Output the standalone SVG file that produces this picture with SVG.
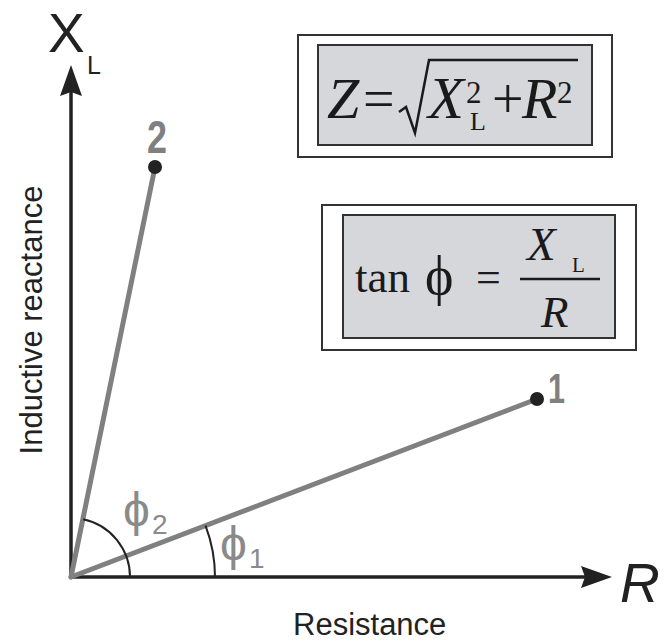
<svg xmlns="http://www.w3.org/2000/svg" width="667" height="644" viewBox="0 0 667 644">
<style>
.axis{stroke:#222;stroke-width:3.5;fill:none}
.vec{stroke:#808080;stroke-width:5;fill:none;stroke-linecap:round}
.arc{stroke:#222;stroke-width:2;fill:none}
.dot{fill:#222}
.sans{font-family:"Liberation Sans",Arial,sans-serif;fill:#222}
.num{font-family:"Liberation Sans",Arial,sans-serif;font-weight:bold;fill:#808080}
.phi{font-family:"Liberation Sans","DejaVu Sans",sans-serif;fill:#8a8a8a}
.ser{font-family:"Liberation Serif","Times New Roman",serif;fill:#1a1a1a}
.it{font-style:italic}
.outer{fill:#fff;stroke:#333;stroke-width:2}
.inner{fill:#d5d7da;stroke:#333;stroke-width:2}
.ah{fill:#222}
</style>
<rect width="667" height="644" fill="#fff"/>
<g id="axes">
  <line class="axis" x1="71" y1="577" x2="71" y2="90"/>
  <polygon class="ah" points="71,65 82,96 71,92 60,96"/>
  <line class="axis" x1="71" y1="577" x2="592" y2="577"/>
  <polygon class="ah" points="612,577 581,588 585,577 581,566"/>
  <text class="sans" x="48" y="52" font-size="55">X</text>
  <text class="sans" x="87" y="74" font-size="25">L</text>
  <text class="sans it" x="620" y="602" font-size="55">R</text>
  <text class="sans" x="293" y="635" font-size="31">Resistance</text>
  <text class="sans" font-size="31" text-anchor="middle" transform="translate(42,320) rotate(-90)">Inductive reactance</text>
</g>
<g id="connectors">
  <line class="vec" x1="71" y1="577" x2="155" y2="167"/>
  <line class="vec" x1="71" y1="577" x2="537" y2="399"/>
  <path class="arc" d="M130,577 A59,59 0 0 0 83.2,519.3"/>
  <path class="arc" d="M215,577 A144,144 0 0 0 205.5,525.6"/>
</g>
<g id="point2">
  <circle class="dot" cx="155" cy="167" r="7"/>
  <text class="num" x="147" y="153" font-size="46" textLength="20" lengthAdjust="spacingAndGlyphs">2</text>
</g>
<g id="point1">
  <circle class="dot" cx="537" cy="399" r="7"/>
  <text class="num" x="548" y="403" font-size="43" textLength="17" lengthAdjust="spacingAndGlyphs">1</text>
</g>
<g id="phi2">
  <text class="phi" x="123" y="526" font-size="48">ϕ</text>
  <text class="phi" x="152" y="534" font-size="28">2</text>
</g>
<g id="phi1">
  <text class="phi" x="220" y="560" font-size="48">ϕ</text>
  <text class="phi" x="249" y="568" font-size="28">1</text>
</g>
<g id="formulaZ">
  <rect class="outer" x="298" y="35" width="314" height="122"/>
  <rect class="inner" x="318" y="45" width="274" height="100"/>
  <text class="ser it" x="327" y="118" font-size="58">Z</text>
  <text class="ser" x="363" y="118" font-size="56">=</text>
  <path d="M399,112 L406,107 L415,133 L429,60 L578,60" fill="none" stroke="#1a1a1a" stroke-width="2.5" stroke-linejoin="miter"/>
  <text class="ser it" x="428" y="118" font-size="59">X</text>
  <text class="ser" x="466" y="103" font-size="31">2</text>
  <text class="ser" x="470" y="130" font-size="26">L</text>
  <text class="ser" x="492" y="118" font-size="56">+</text>
  <text class="ser it" x="522" y="118" font-size="58">R</text>
  <text class="ser" x="557" y="103" font-size="31">2</text>
</g>
<g id="formulaTan">
  <rect class="outer" x="322" y="205" width="314" height="145"/>
  <rect class="inner" x="343" y="215" width="272" height="123"/>
  <text class="ser" x="355" y="292" font-size="45">tan</text>
  <text class="ser" x="425" y="294" font-size="54">ϕ</text>
  <text class="ser" x="476" y="292" font-size="44">=</text>
  <line x1="520" y1="279" x2="600" y2="279" stroke="#1a1a1a" stroke-width="2.5"/>
  <text class="ser it" x="527" y="260" font-size="47">X</text>
  <text class="ser" x="572" y="272" font-size="21">L</text>
  <text class="ser it" x="541" y="327" font-size="45">R</text>
</g>
</svg>
